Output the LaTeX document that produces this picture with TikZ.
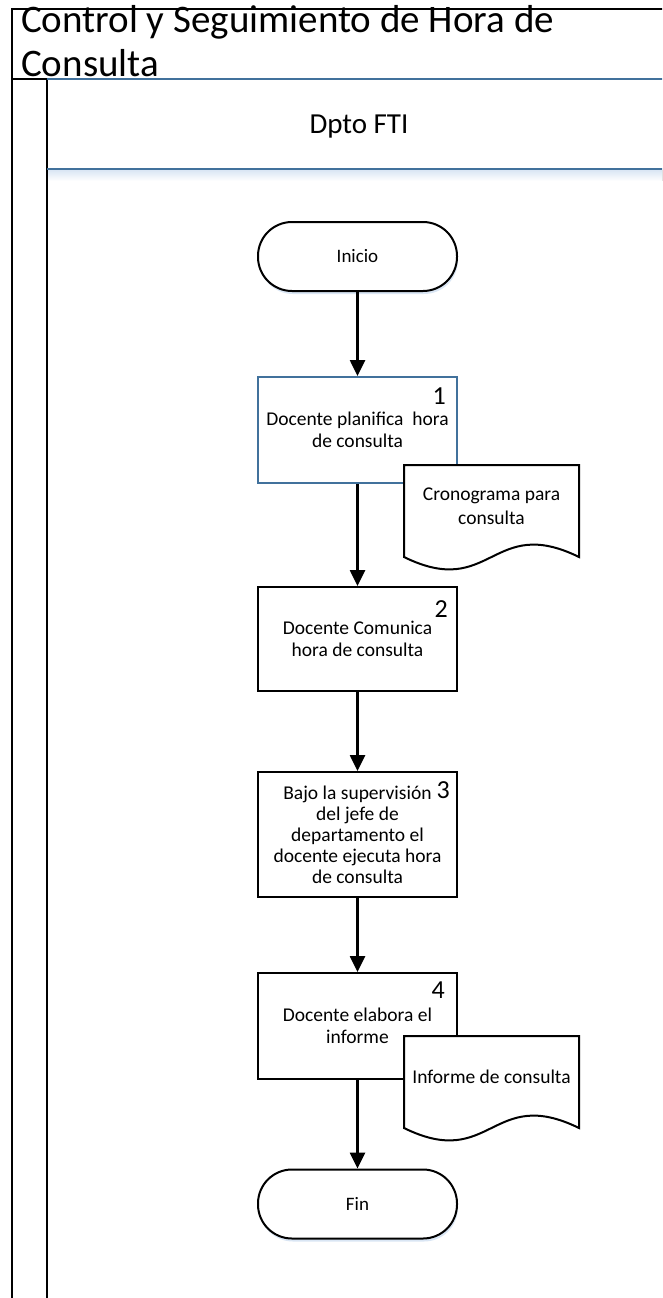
\documentclass[tikz,border=0pt]{standalone}
\usepackage{fontspec}
\setmainfont{Carlito}
\usetikzlibrary{arrows.meta,shadows}
\definecolor{vblue}{RGB}{65,113,156}
\definecolor{glow}{RGB}{218,230,244}
\begin{document}
\begin{tikzpicture}[x=1pt,y=-1pt,
  every node/.style={inner sep=0pt},
  lane/.style={line width=2pt, black},
  bluel/.style={line width=2.2pt, vblue},
  term/.style={draw, line width=2pt, rounded corners=34pt, minimum width=199pt, minimum height=69pt, fill=white, font=\fontsize{19}{22}\selectfont, drop shadow={shadow xshift=1pt, shadow yshift=-3pt, fill=glow, opacity=1}},
  proc/.style={draw, line width=2pt, fill=white, minimum width=199pt, align=center, font=\fontsize{19.5}{22}\selectfont},
  num/.style={font=\fontsize{26}{26}\selectfont, anchor=north east},
  doctext/.style={align=center, font=\fontsize{19.5}{24}\selectfont},
  docshape/.style={draw, line width=2pt, fill=white},
  flow/.style={line width=2.6pt, -{Triangle[length=16pt,width=15pt]}},
]
\path[use as bounding box] (0,0) rectangle (662,1298);
\clip (0,0) rectangle (662,1298);
% frame
\fill[top color=glow, bottom color=white] (48,170) rectangle (680,181);
\draw[lane] (12,1300) -- (12,9) -- (680,9);
\draw[lane] (12,79) -- (47,79);
\draw[lane] (47,79) -- (47,1300);
\draw[bluel] (47,79) -- (680,79);
\draw[bluel] (47,169) -- (680,169);
\node[anchor=south west, align=left, font=\fontsize{39}{44}\selectfont] (title) at (21,77) {Control y Seguimiento de Hora de\\Consulta};
\node[anchor=base, font=\fontsize{29}{29}\selectfont] (lanename) at (359,133) {Dpto FTI};
% flow nodes
\node[term] (start) at (357.5,256.5) {Inicio};
\node[proc, draw=vblue, minimum height=106pt] (p1) at (357.5,430) {Docente planifica~ hora\\de consulta};
\node[proc, minimum height=104pt] (p2) at (357.5,639) {Docente Comunica\\hora de consulta};
\node[proc, minimum height=125pt, font=\fontsize{19.5}{21}\selectfont] (p3) at (357.5,834.5) {Bajo la supervisión\\del jefe de\\departamento el\\docente ejecuta hora\\de consulta};
\node[proc, minimum height=106pt] (p4) at (357.5,1026) {Docente elabora el\\informe};
\node[term] (end) at (357.5,1204) {Fin};
\node[num] (n1) at ([xshift=-12pt,yshift=-12pt]p1.north east) {1};
\node[num] (n2) at ([xshift=-10pt,yshift=-14pt]p2.north east) {2};
\node[num] (n3) at ([xshift=-8pt,yshift=-10pt]p3.north east) {3};
\node[num] (n4) at ([xshift=-13pt,yshift=-10pt]p4.north east) {4};
% documents
\draw[docshape] (404,465) -- (579,465) -- (579,557) .. controls (491.5,514) and (491.5,600) .. (404,557) -- cycle;
\node[doctext] (d1) at (491.5,506) {Cronograma para\\consulta};
\draw[docshape] (404,1036) -- (579,1036) -- (579,1128) .. controls (491.5,1085) and (491.5,1171) .. (404,1128) -- cycle;
\node[doctext] (d2) at (491.5,1077) {Informe de consulta};
% connectors
\draw[flow] (start.south) -- (p1.north);
\draw[flow] (p1.south) -- (p2.north);
\draw[flow] (p2.south) -- (p3.north);
\draw[flow] (p3.south) -- (p4.north);
\draw[flow] (p4.south) -- (end.north);
\end{tikzpicture}
\end{document}
